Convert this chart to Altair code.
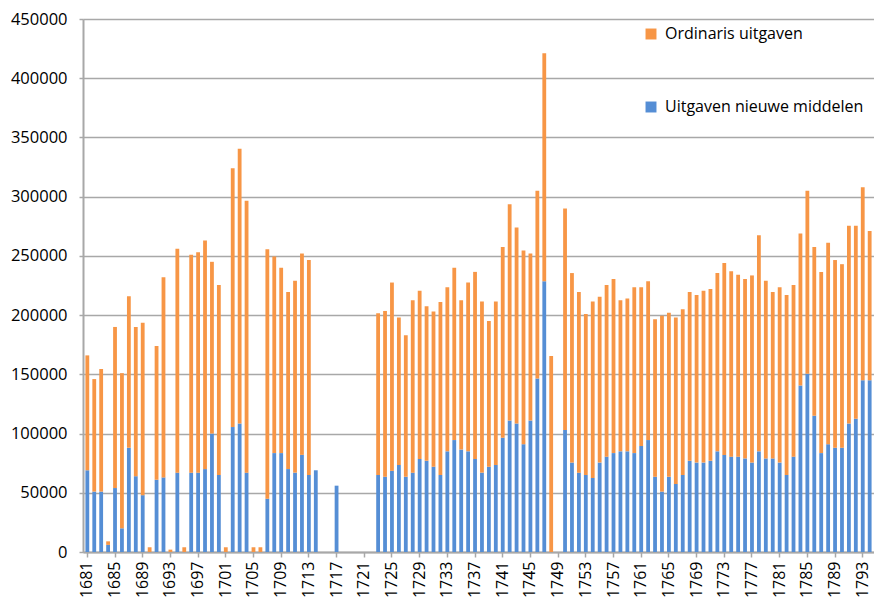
import altair as alt
import pandas as pd

years = list(range(1681, 1795))

# Uitgaven nieuwe middelen (blue, bottom of stack)
nieuwe = [
    69000, 51000, 51000, 6000, 54000, 20000, 88000, 64000, 48000, 0,          # 1681-1690
    61000, 63000, 0, 67000, 0, 67000, 67000, 70000, 100000, 65000,            # 1691-1700
    0, 105500, 108500, 67000, 0, 0, 45000, 83500, 83500, 70000,               # 1701-1710
    67000, 82000, 65000, 69000, 0, 0, 56000, 0, 0, 0,                         # 1711-1720
    0, 0, 65000, 63500, 68500, 73500, 63500, 67000, 78500, 77000,             # 1721-1730
    72000, 65000, 85000, 94500, 86500, 85000, 78500, 67000, 72000, 73500,     # 1731-1740
    96500, 111000, 108500, 91000, 111000, 146500, 228500, 0, 0, 103000,       # 1741-1750
    75500, 67000, 65000, 62500, 75500, 80500, 83500, 85000, 85000, 83500,     # 1751-1760
    89500, 94500, 63500, 51000, 63500, 57500, 65000, 77000, 75500, 75500,     # 1761-1770
    77000, 85000, 82000, 80500, 80500, 79000, 75500, 85000, 79000, 79000,     # 1771-1780
    75500, 65000, 80500, 140500, 150500, 115000, 83500, 91000, 88000, 88000,  # 1781-1790
    108500, 112500, 145000, 145000,                                           # 1791-1794
]

# Ordinaris uitgaven (orange, top of stack)
ordinaris = [
    97000, 95000, 103500, 3000, 136000, 131000, 128000, 126000, 145500, 4000,        # 1681-1690
    113000, 169000, 2000, 189000, 4000, 184000, 186000, 193000, 145000, 160500,      # 1691-1700
    4000, 218500, 232000, 229500, 4000, 4000, 210500, 166000, 156500, 149500,        # 1701-1710
    162000, 170000, 181500, 0, 0, 0, 0, 0, 0, 0,                                     # 1711-1720
    0, 0, 136500, 140000, 159000, 124500, 119500, 145500, 142000, 130500,            # 1721-1730
    131000, 146000, 138500, 145500, 126000, 142500, 158000, 144500, 123000, 138000,  # 1731-1740
    161000, 182500, 165500, 163500, 141000, 158500, 192500, 165500, 0, 187000,       # 1741-1750
    160000, 152500, 136000, 149000, 140000, 145000, 147000, 127500, 129000, 140000,  # 1751-1760
    134000, 134000, 133000, 148500, 138500, 140500, 140000, 142500, 141500, 145000,  # 1761-1770
    145000, 150500, 162000, 156500, 153500, 151500, 158000, 182500, 150000, 140500,  # 1771-1780
    148000, 152000, 145000, 128500, 154500, 142500, 153000, 170000, 158500, 155000,  # 1781-1790
    167000, 163000, 163000, 126000,                                                  # 1791-1794
]

series = ["Ordinaris uitgaven", "Uitgaven nieuwe middelen"]
colors = ["#F79646", "#558ED5"]
x_labels = list(range(1681, 1795, 4))
y_ticks = list(range(0, 450001, 50000))

rows = []
for y, o, n in zip(years, ordinaris, nieuwe):
    rows.append({"jaar": y, "serie": series[1], "waarde": n, "volgorde": 0})
    rows.append({"jaar": y, "serie": series[0], "waarde": o, "volgorde": 1})
df = pd.DataFrame(rows)

FONT = "Open Sans"
GRID = "#A8A8A8"

chart = alt.Chart(df).mark_bar().encode(
    x=alt.X(
        "jaar:O",
        scale=alt.Scale(paddingInner=0.45, paddingOuter=0.35),
        axis=alt.Axis(
            values=x_labels, title=None, labelAngle=-90, labelFontSize=16,
            labelFont=FONT, labelColor="#000000", labelPadding=4,
            tickSize=5, tickColor=GRID, tickWidth=1.5,
            domainColor=GRID, domainWidth=2, grid=False,
        ),
    ),
    y=alt.Y(
        "waarde:Q",
        stack="zero",
        scale=alt.Scale(domain=[0, 450000], nice=False),
        axis=alt.Axis(
            values=y_ticks, format="d", title=None, labelFontSize=16.5,
            labelFont=FONT, labelColor="#000000", labelPadding=12,
            tickSize=4, tickColor=GRID, tickWidth=1.5,
            domainColor=GRID, domainWidth=2,
            grid=True, gridColor=GRID, gridWidth=1.5,
        ),
    ),
    color=alt.Color(
        "serie:N",
        scale=alt.Scale(domain=series, range=colors),
        legend=alt.Legend(
            title=None, orient="none", legendX=560, legendY=7,
            direction="vertical", rowPadding=57, symbolType="square",
            symbolSize=120, symbolStrokeWidth=0, labelFontSize=16,
            labelFont=FONT, labelColor="#000000", labelOffset=6,
            labelLimit=400,
        ),
    ),
    order=alt.Order("volgorde:Q", sort="ascending"),
).properties(
    width=791,
    height=533,
    autosize=alt.AutoSizeParams(type="none"),
    padding={"left": 75, "top": 11, "right": 0, "bottom": 48},
).configure_view(stroke=None).configure(background="#FFFFFF")

chart.save("out.html", embed_options={"renderer": "svg", "actions": False})
